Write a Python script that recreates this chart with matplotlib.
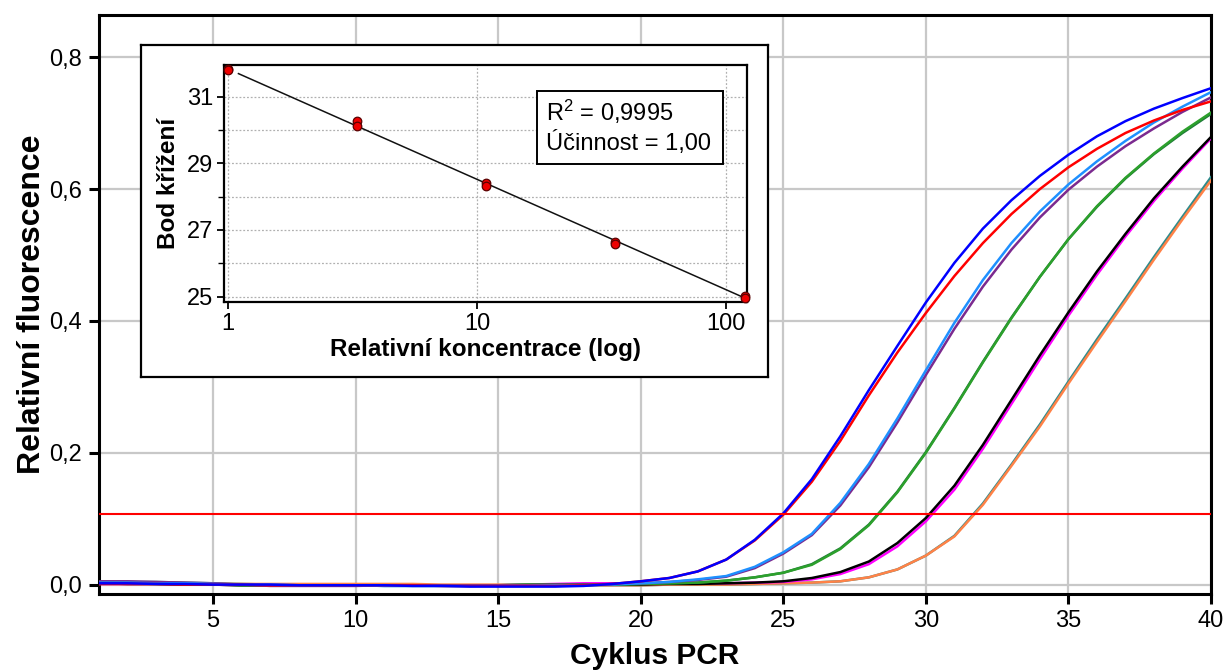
import numpy as np
import matplotlib
matplotlib.use("Agg")
import matplotlib.pyplot as plt
from matplotlib.patches import Rectangle
from matplotlib.ticker import FixedLocator, NullLocator, FixedFormatter

plt.rcParams['font.family'] = ['Liberation Sans', 'DejaVu Sans']
plt.rcParams['mathtext.fontset'] = 'custom'
plt.rcParams['mathtext.rm'] = 'Liberation Sans'
plt.rcParams['mathtext.it'] = 'Liberation Sans:italic'
plt.rcParams['mathtext.bf'] = 'Liberation Sans:bold'

# ---- amplification curves (relative fluorescence per PCR cycle) ----
cycles = list(range(1, 41))

blue = [0.002, 0.002, 0.001, 0.001, 0.000, 0.000, 0.000, -0.001, -0.001, -0.001,
        -0.001, -0.002, -0.002, -0.003, -0.003, -0.003, -0.003, -0.002, 0.001,
        0.005, 0.010, 0.020, 0.038, 0.068, 0.108, 0.160, 0.225, 0.295, 0.362, 0.428,
        0.488, 0.540, 0.583, 0.620, 0.652, 0.680, 0.703, 0.722, 0.738, 0.753]
red = [0.001, 0.001, 0.001, 0.000, 0.000, 0.000, -0.001, -0.001, -0.001, -0.001,
       -0.001, -0.001, -0.002, -0.002, -0.002, -0.002, -0.002, -0.001, 0.001,
       0.005, 0.010, 0.020, 0.038, 0.067, 0.106, 0.156, 0.218, 0.287, 0.352, 0.412,
       0.468, 0.518, 0.562, 0.600, 0.633, 0.661, 0.685, 0.704, 0.720, 0.733]
light_blue = [0.003, 0.003, 0.002, 0.002, 0.001, 0.000, 0.000, -0.001, -0.001, -0.001,
              -0.002, -0.002, -0.002, -0.002, -0.002, -0.002, -0.001, -0.001, 0.000,
              0.002, 0.004, 0.008, 0.013, 0.027, 0.049, 0.077, 0.124, 0.183, 0.252, 0.325,
              0.397, 0.462, 0.518, 0.566, 0.607, 0.642, 0.673, 0.701, 0.725, 0.747]
purple = [0.005, 0.005, 0.004, 0.003, 0.002, 0.000, -0.002, -0.002, -0.002, -0.002,
          -0.001, -0.001, -0.001, -0.001, -0.001, -0.001, 0.000, 0.000, 0.001,
          0.002, 0.004, 0.007, 0.012, 0.025, 0.047, 0.075, 0.120, 0.178, 0.246, 0.318,
          0.388, 0.452, 0.508, 0.557, 0.599, 0.634, 0.665, 0.692, 0.717, 0.739]
green = [0.002, 0.002, 0.001, 0.001, 0.000, -0.001, -0.001, -0.001, -0.001, -0.001,
         -0.001, -0.001, -0.001, -0.001, -0.001, 0.000, 0.000, 0.000, 0.000,
         0.001, 0.002, 0.003, 0.006, 0.011, 0.018, 0.030, 0.054, 0.090, 0.140, 0.200,
         0.267, 0.337, 0.404, 0.467, 0.524, 0.574, 0.617, 0.654, 0.687, 0.716]
dark_green = [0.004, 0.004, 0.003, 0.002, 0.001, -0.001, -0.001, -0.001, -0.001, -0.001,
              -0.001, -0.001, -0.001, -0.001, -0.001, 0.000, 0.000, 0.000, 0.000,
              0.001, 0.002, 0.003, 0.006, 0.011, 0.018, 0.031, 0.055, 0.091, 0.141, 0.201,
              0.268, 0.338, 0.405, 0.467, 0.524, 0.573, 0.616, 0.653, 0.685, 0.714]
black = [0.002, 0.001, 0.001, 0.000, 0.000, -0.001, -0.001, -0.001, -0.001, -0.001,
         -0.001, -0.001, -0.001, -0.001, -0.001, -0.001, 0.000, 0.000, 0.000,
         0.000, 0.001, 0.001, 0.002, 0.003, 0.005, 0.010, 0.019, 0.035, 0.063, 0.101,
         0.150, 0.212, 0.280, 0.348, 0.413, 0.475, 0.532, 0.586, 0.634, 0.679]
magenta = [0.001, 0.001, 0.001, 0.000, 0.000, -0.001, -0.001, -0.001, -0.001, -0.001,
           -0.001, -0.001, -0.001, -0.001, -0.001, 0.000, 0.001, 0.002, 0.002,
           0.002, 0.002, 0.002, 0.002, 0.003, 0.004, 0.008, 0.016, 0.031, 0.058, 0.096,
           0.144, 0.206, 0.274, 0.342, 0.408, 0.470, 0.528, 0.582, 0.631, 0.677]
orange = [0.001, 0.001, 0.001, 0.001, 0.001, 0.001, 0.001, 0.001, 0.001, 0.001,
          0.001, 0.001, 0.000, 0.000, 0.000, -0.001, -0.001, -0.001, -0.001,
          -0.001, 0.000, 0.000, 0.000, 0.001, 0.002, 0.003, 0.005, 0.011, 0.023, 0.044,
          0.073, 0.121, 0.180, 0.240, 0.305, 0.368, 0.430, 0.493, 0.554, 0.613]
teal = [0.004, 0.004, 0.004, 0.003, 0.002, 0.001, 0.000, -0.001, -0.001, -0.001,
        -0.002, -0.002, -0.002, -0.002, -0.001, -0.001, -0.001, -0.001, -0.001,
        -0.001, 0.000, 0.000, 0.000, 0.001, 0.002, 0.003, 0.005, 0.011, 0.023, 0.044,
        0.074, 0.123, 0.182, 0.243, 0.308, 0.372, 0.434, 0.497, 0.558, 0.618]

threshold = 0.107

# ---- standard curve (crossing point vs. relative concentration) ----
rel_conc = [1.0, 1.0, 3.3, 3.3, 10.9, 10.9, 35.9, 35.9, 118.6, 118.6]
crossing_point = [31.82, 31.79, 30.27, 30.12, 28.42, 28.32, 26.65, 26.58, 25.03, 24.97]
r2_text = "R$^2$ = 0,9995"
eff_text = "Účinnost = 1,00"

x_ticks = [5, 10, 15, 20, 25, 30, 35, 40]
y_ticks = [0.0, 0.2, 0.4, 0.6, 0.8]
y_tick_labels = ["0,0", "0,2", "0,4", "0,6", "0,8"]

W, H = 1227, 671
fig = plt.figure(figsize=(W / 100, H / 100), dpi=100)
fig.patch.set_facecolor('white')

ax = fig.add_axes([99 / W, 1 - 593.5 / H, (1211 - 99) / W, (593.5 - 15) / H])
ax.set_xlim(1, 40)
ax.set_ylim(-0.0135, 0.864)
ax.set_xticks(x_ticks)
ax.set_yticks(y_ticks)
ax.set_yticklabels(y_tick_labels)
ax.grid(True, color='#c8c8c8', linewidth=1.6, zorder=0)
ax.set_axisbelow(True)
for s in ax.spines.values():
    s.set_linewidth(2.2)
    s.set_color('black')
ax.tick_params(axis='both', which='major', direction='out', length=7, width=2.2,
               labelsize=17, pad=5, color='black')

series = [
    (teal, '#2e8b8b'), (orange, '#ff8247'),
    (magenta, '#ff00ff'), (black, '#000000'),
    (dark_green, '#1f7a3a'), (green, '#2ca02c'),
    (purple, '#7b2a8f'), (light_blue, '#1e90ff'),
    (red, '#ff0000'), (blue, '#0000ff'),
]
for vals, col in series:
    ax.plot(cycles, vals, color=col, linewidth=1.8, zorder=3)

ax.axhline(threshold, color='#ff0000', linewidth=1.5, zorder=4)

ax.set_xlabel("Cyklus PCR", fontsize=21.5, fontweight='bold', labelpad=7)
ax.set_ylabel("Relativní fluorescence", fontsize=23, fontweight='bold', labelpad=2)

# ---- framed panel holding the standard curve ----
frame = fig.add_axes([140.7 / W, 1 - 376.7 / H, (768 - 140.7) / W, (376.7 - 45) / H])
frame.set_xticks([])
frame.set_yticks([])
frame.set_facecolor('white')
for s in frame.spines.values():
    s.set_linewidth(1.6)
    s.set_color('black')
frame.set_zorder(5)

ins = fig.add_axes([224 / W, 1 - 302.3 / H, (747 - 224) / W, (302.3 - 65) / H])
ins.set_zorder(6)
ins.set_xscale('log')
ins.set_xlim(0.967, 121)
ins.set_ylim(24.83, 31.95)
ins.xaxis.set_major_locator(FixedLocator([1, 10, 100]))
ins.xaxis.set_major_formatter(FixedFormatter(["1", "10", "100"]))
ins.xaxis.set_minor_locator(NullLocator())
ins.yaxis.set_major_locator(FixedLocator([25, 27, 29, 31]))
ins.yaxis.set_minor_locator(FixedLocator([26, 28, 30]))
ins.grid(True, which='both', color='#b0b0b0', linestyle=(0, (1.5, 1.5)), linewidth=0.9)
ins.set_axisbelow(True)
for s in ins.spines.values():
    s.set_linewidth(1.6)
    s.set_color('black')
ins.tick_params(axis='both', which='major', direction='out', length=5, width=1.3,
                labelsize=17, pad=3)
ins.tick_params(axis='y', which='minor', direction='out', length=4, width=1.0)

logc = np.log10(rel_conc)
slope, icpt = np.polyfit(logc, crossing_point, 1)
fit_x = np.array([1.105, 118.6])
ins.plot(fit_x, slope * np.log10(fit_x) + icpt, color='#111111', linewidth=1.1, zorder=3)
ins.scatter(rel_conc, crossing_point, s=38, color='#ee0000', edgecolor='#5a0000',
            linewidth=0.9, zorder=4, clip_on=False)

ins.set_xlabel("Relativní koncentrace (log)", fontsize=17.5, fontweight='bold', labelpad=2)
ins.set_ylabel("Bod křížení", fontsize=17.5, fontweight='bold', labelpad=5)

ins.add_patch(Rectangle((0.599, 0.583), 0.955 - 0.599, 0.892 - 0.583,
                        transform=ins.transAxes, facecolor='white', edgecolor='black',
                        linewidth=1.4, zorder=5))
ins.text(0.616, 0.803, r2_text, transform=ins.transAxes, fontsize=17,
         va='center', ha='left', zorder=6)
ins.text(0.616, 0.671, eff_text, transform=ins.transAxes, fontsize=17,
         va='center', ha='left', zorder=6)

fig.savefig("out.png", dpi=100, facecolor='white')
